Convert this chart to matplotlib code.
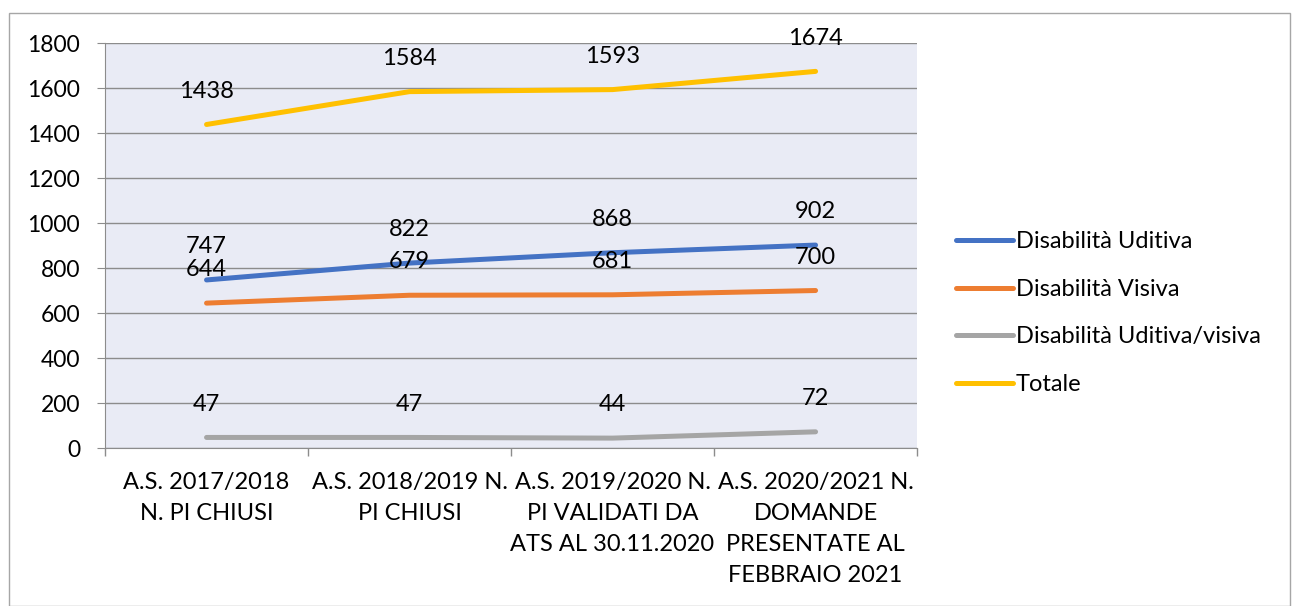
import matplotlib
matplotlib.use("Agg")
import matplotlib.pyplot as plt
from matplotlib.patches import Rectangle

plt.rcParams['font.family'] = ['Lato', 'DejaVu Sans']

categories = [
    "A.S. 2017/2018\nN. PI CHIUSI",
    "A.S. 2018/2019 N.\nPI CHIUSI",
    "A.S. 2019/2020 N.\nPI VALIDATI DA\nATS AL 30.11.2020",
    "A.S. 2020/2021 N.\nDOMANDE\nPRESENTATE AL\nFEBBRAIO 2021",
]
uditiva = [747, 822, 868, 902]
visiva = [644, 679, 681, 700]
uditiva_visiva = [47, 47, 44, 72]
totale = [1438, 1584, 1593, 1674]

series = [
    ("Disabilità Uditiva", uditiva, "#4472C4"),
    ("Disabilità Visiva", visiva, "#ED7D31"),
    ("Disabilità Uditiva/visiva", uditiva_visiva, "#A5A5A5"),
    ("Totale", totale, "#FFC000"),
]

fig = plt.figure(figsize=(12.92, 6.06), dpi=100)
ax = fig.add_axes([0.0813, 0.2607, 0.6285, 0.6683])
ax.set_facecolor("#E9EBF5")

x = list(range(len(categories)))
for name, vals, color in series:
    ax.plot(x, vals, color=color, lw=3.6, solid_capstyle="round", label=name)
    for xi, v in zip(x, vals):
        ax.annotate(str(v), (xi, v), xytext=(0, 24), textcoords="offset points",
                    ha="center", va="center", fontsize=17, color="black")

ax.set_xlim(-0.5, 3.5)
ax.set_ylim(0, 1800)
ax.set_yticks(range(0, 1801, 200))
ax.yaxis.grid(True, color="#8C8C8C", lw=1)
ax.set_axisbelow(True)
ax.set_xticks(x)
ax.set_xticklabels(categories, fontsize=17, linespacing=1.6)
ax.set_xticks([-0.5, 0.5, 1.5, 2.5, 3.5], minor=True)
ax.tick_params(axis="x", which="major", length=0, pad=17)
ax.tick_params(axis="x", which="minor", length=6, color="#8C8C8C", width=1)
ax.tick_params(axis="y", length=6, color="#8C8C8C", labelsize=16.5, pad=12)
for side in ["top", "right"]:
    ax.spines[side].set_visible(False)
for side in ["left", "bottom"]:
    ax.spines[side].set_color("#8C8C8C")

ax.legend(loc="center left", bbox_to_anchor=(1.022, 0.333), frameon=False, fontsize=17,
          handlelength=2.4, handletextpad=0.12, labelspacing=1.12)

fig.patches.append(Rectangle((9 / 1292, 0), 1281 / 1292, 593 / 606, transform=fig.transFigure,
                             fill=False, edgecolor="#A6A6A6", lw=1))

plt.savefig("out.png", dpi=100)
